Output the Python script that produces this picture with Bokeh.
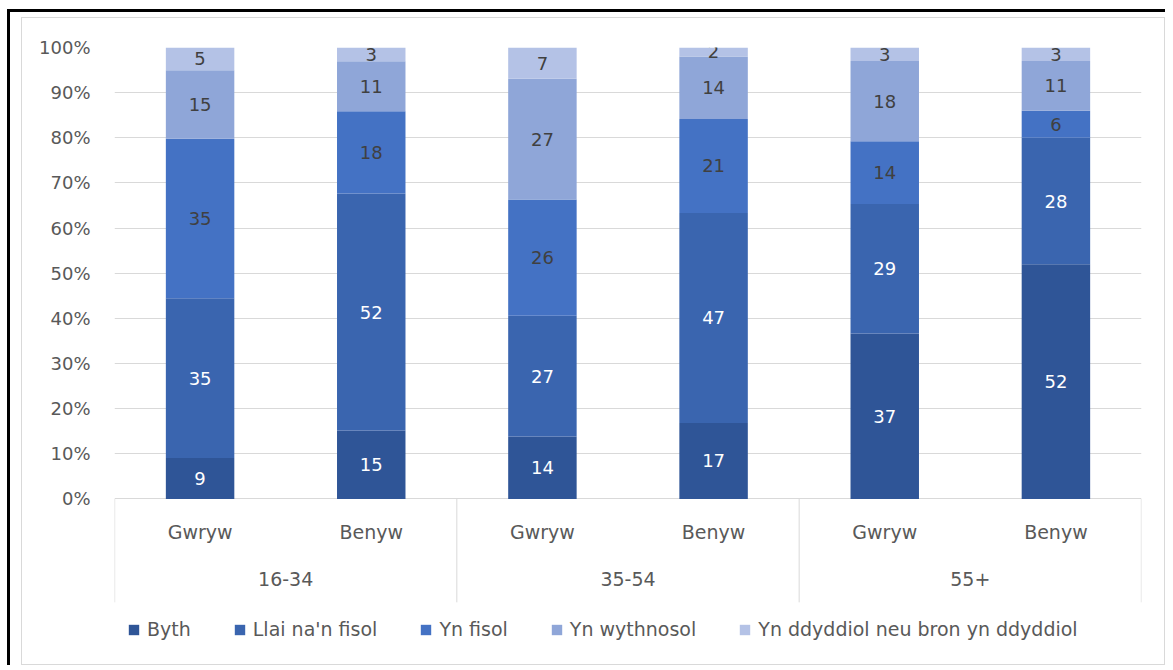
from bokeh.plotting import figure
from bokeh.models import (FactorRange, ColumnDataSource, Legend, LegendItem,
                          FixedTicker, NumeralTickFormatter, Range1d)
from bokeh.layouts import column
from bokeh.core.properties import value
from bokeh.embed import file_html
from bokeh.resources import INLINE

# ---------------- data ----------------
groups = ["16-34", "35-54", "55+"]
sexes = ["Gwryw", "Benyw"]
series = ["Byth", "Llai na'n fisol", "Yn fisol", "Yn wythnosol",
          "Yn ddyddiol neu bron yn ddyddiol"]
byth = [9, 15, 14, 17, 37, 52]
llai = [35, 52, 27, 47, 29, 28]
yn_fisol = [35, 18, 26, 21, 14, 6]
yn_wythnosol = [15, 11, 27, 14, 18, 11]
yn_ddyddiol = [5, 3, 7, 2, 3, 3]
y_ticks = [0, 0.1, 0.2, 0.3, 0.4, 0.5, 0.6, 0.7, 0.8, 0.9, 1.0]

colors = ["#2F5597", "#3A65AF", "#4472C4", "#8FA6D8", "#B4C2E6"]
label_colors = ["#FFFFFF", "#FFFFFF", "#404040", "#404040", "#404040"]

FONT = "DejaVu Sans"
GREY = "#595959"
LINE = "#D9D9D9"

factors = [(g, s) for g in groups for s in sexes]
all_series = [byth, llai, yn_fisol, yn_wythnosol, yn_ddyddiol]
totals = [sum(vals) for vals in zip(*all_series)]

AXIS_BOTTOM = -0.2289

p = figure(x_range=FactorRange(*factors, factor_padding=0, group_padding=0,
                               range_padding=0),
           y_range=Range1d(-0.34, 1.0),
           frame_width=1025, frame_height=603,
           x_axis_location=None,
           min_border_left=92, min_border_right=25,
           min_border_top=29, min_border_bottom=14,
           output_backend="svg", toolbar_location=None,
           background_fill_color="white", border_fill_color="white")
p.outline_line_color = None
p.styles = {"border": "1px solid #D9D9D9"}

bottoms = [0.0] * len(factors)
legend_items = []
for name, vals, col, lcol in zip(series, all_series, colors, label_colors):
    fr = [v / t for v, t in zip(vals, totals)]
    tops = [b + f for b, f in zip(bottoms, fr)]
    mids = [(b + t) / 2 for b, t in zip(bottoms, tops)]
    src = ColumnDataSource(dict(x=factors, bottom=bottoms, top=tops,
                                mid=mids, lab=[str(v) for v in vals]))
    r = p.vbar(x="x", bottom="bottom", top="top", width=0.4, source=src,
               fill_color=col, line_color=None)
    p.text(x="x", y="mid", text="lab", source=src, text_align="center",
           text_baseline="middle", text_color=lcol,
           text_font=value(FONT), text_font_size="18px")
    legend_items.append(LegendItem(label=name, renderers=[r]))
    bottoms = tops

# category labels (two levels) drawn through the categorical scale
p.text(x=factors, y=[-0.0733] * len(factors), text=[f[1] for f in factors],
       text_align="center", text_baseline="middle", text_color=GREY,
       text_font=value(FONT), text_font_size="19px")
p.text(x=groups, y=[-0.178] * len(groups), text=groups,
       text_align="center", text_baseline="middle", text_color=GREY,
       text_font=value(FONT), text_font_size="19px")

# group separators
sep_x = [(groups[0], sexes[0], -0.499), (groups[1], sexes[0], -0.5),
         (groups[2], sexes[0], -0.5), (groups[2], sexes[1], 0.499)]
p.segment(x0=sep_x, x1=sep_x, y0=[0] * 4, y1=[AXIS_BOTTOM] * 4,
          line_color=LINE, line_width=1)

# axes
p.xgrid.grid_line_color = None
p.yaxis.ticker = FixedTicker(ticks=y_ticks)
p.yaxis.formatter = NumeralTickFormatter(format="0%")
p.yaxis.axis_line_color = None
p.yaxis.major_tick_line_color = None
p.yaxis.minor_tick_line_color = None
p.yaxis.major_label_standoff = 18
p.yaxis.major_label_text_font = FONT
p.yaxis.major_label_text_font_size = "18px"
p.yaxis.major_label_text_color = GREY
p.ygrid.ticker = FixedTicker(ticks=y_ticks)
p.ygrid.grid_line_color = LINE
p.ygrid.grid_line_width = 1

legend = Legend(items=legend_items, orientation="horizontal",
                location=(13, 12), glyph_width=13, glyph_height=13,
                label_standoff=7, spacing=42, padding=4, margin=0,
                label_text_font=FONT, label_text_font_size="19px",
                label_text_color=GREY, border_line_color=None,
                background_fill_alpha=0)
p.add_layout(legend)

page = column(p, styles={"border-left": "3px solid black",
                         "border-top": "3px solid black",
                         "margin-left": "7px", "margin-top": "9px",
                         "padding-left": "11px", "padding-top": "5px"})

open("out.html", "w").write(file_html(page, INLINE))
